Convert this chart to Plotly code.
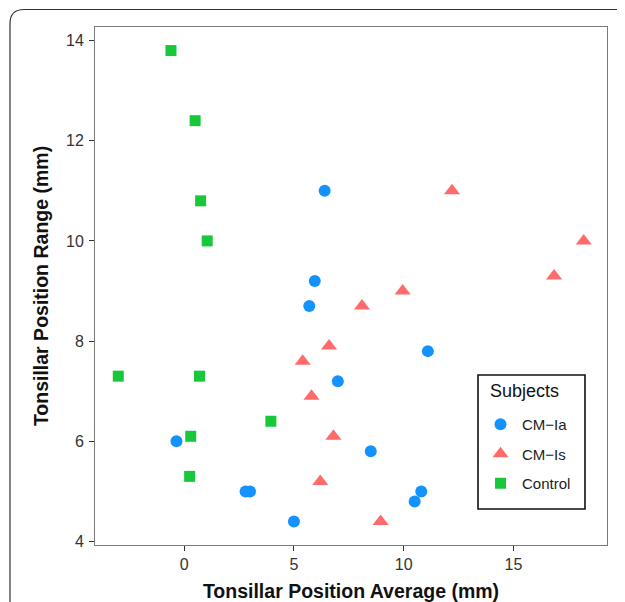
import plotly.graph_objects as go

# CM-Ia subjects
cmia_x = [6.4, 5.95, 5.7, 11.1, 7.0, -0.35, 8.5, 2.8, 3.0, 10.8, 10.5, 5.0]
cmia_y = [11.0, 9.2, 8.7, 7.8, 7.2, 6.0, 5.8, 5.0, 5.0, 5.0, 4.8, 4.4]

# CM-Is subjects
cmis_x = [12.2, 18.2, 16.85, 9.95, 8.1, 6.6, 5.4, 5.8, 6.8, 6.2, 8.95]
cmis_y = [11.0, 10.0, 9.3, 9.0, 8.7, 7.9, 7.6, 6.9, 6.1, 5.2, 4.4]

# Control subjects
ctrl_x = [-0.6, 0.5, 0.75, 1.05, -3.0, 0.7, 3.95, 0.3, 0.25]
ctrl_y = [13.8, 12.4, 10.8, 10.0, 7.3, 7.3, 6.4, 6.1, 5.3]

x_ticks = [0, 5, 10, 15]
y_ticks = [4, 6, 8, 10, 12, 14]

FONT = "Liberation Sans, Arial, Helvetica, sans-serif"

fig = go.Figure()
fig.add_trace(go.Scatter(x=cmia_x, y=cmia_y, mode="markers", name="CM\u2212Ia",
                         legendgroup="a",
                         marker=dict(symbol="circle", size=12, color="#1493FF")))
fig.add_trace(go.Scatter(x=cmis_x, y=cmis_y, mode="markers", name="CM\u2212Is",
                         legendgroup="b",
                         marker=dict(symbol="triangle-up", size=14, color="#FF6B6B")))
fig.add_trace(go.Scatter(x=ctrl_x, y=ctrl_y, mode="markers", name="Control",
                         legendgroup="c",
                         marker=dict(symbol="square", size=11, color="#17C93A")))

# page has an 8px body margin; compensate so plot area sits at 95..607 x 27..545
OFF = 8
W, H = 625 - OFF, 602 - OFF
ml, mr, mt, mb = 95 - OFF, 18, 27 - OFF, 57
pw, ph = W - ml - mr, H - mt - mb
def px(x): return (x - OFF - ml) / pw          # page pixel -> paper x
def py(y): return (H - mb - (y - OFF)) / ph    # page pixel -> paper y
r = 14
path = (f"M {px(10)},{py(660)} L {px(10)},{py(9.5 + r)} "
        f"Q {px(10)},{py(9.5)} {px(10 + r)},{py(9.5)} L {px(660)},{py(9.5)}")

fig.update_layout(
    width=W, height=H,
    margin=dict(l=ml, r=mr, t=mt, b=mb, autoexpand=False),
    paper_bgcolor="white", plot_bgcolor="white",
    font=dict(family=FONT, color="#222222"),
    showlegend=True,
    legend=dict(
        font=dict(size=15, color="#222222"),
        x=px(479), y=py(408), xanchor="left", yanchor="top",
        borderwidth=0, bgcolor="rgba(0,0,0,0)",
        traceorder="grouped", tracegroupgap=7,
        itemwidth=33,
    ),
    shapes=[
        dict(type="path", xref="paper", yref="paper", path=path,
             line=dict(color="#333333", width=1.2)),
        dict(type="rect", xref="paper", yref="paper",
             x0=px(478), x1=px(585), y0=py(509), y1=py(375),
             line=dict(color="#111111", width=1.6), fillcolor="rgba(0,0,0,0)"),
    ],
    annotations=[
        dict(text="Subjects", xref="paper", yref="paper", x=px(488), y=py(391),
             xanchor="left", yanchor="middle", showarrow=False,
             font=dict(size=18, color="#111111")),
    ],
    xaxis=dict(
        range=[-4.06, 19.26], tickvals=x_ticks, ticks="outside", ticklen=5,
        tickcolor="#333333", tickfont=dict(size=16, color="#333333"),
        showgrid=False, zeroline=False, showline=True, mirror=True,
        linecolor="#7a7a7a", linewidth=1, automargin=False,
        title=dict(text="<b>Tonsillar Position Average (mm)</b>",
                   font=dict(size=19.5, color="#111111"), standoff=17),
    ),
    yaxis=dict(
        range=[3.93, 14.27], tickvals=y_ticks, ticks="outside", ticklen=5,
        tickcolor="#333333", tickfont=dict(size=16, color="#333333"),
        showgrid=False, zeroline=False, showline=True, mirror=True,
        linecolor="#7a7a7a", linewidth=1, automargin=False,
        ticklabelstandoff=2,
        title=dict(text="<b>Tonsillar Position Range (mm)</b>",
                   font=dict(size=19.5, color="#111111"), standoff=12),
    ),
)

fig.write_html("out.html")
